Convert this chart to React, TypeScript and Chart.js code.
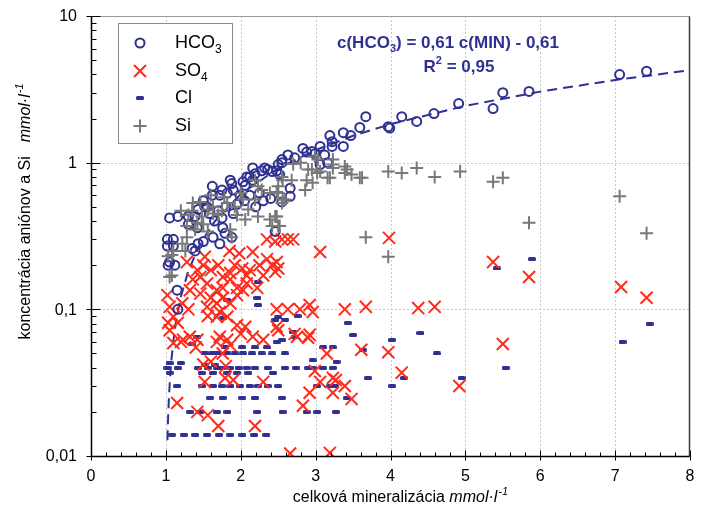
import React, { useEffect, useRef } from "react";
import { Chart, registerables } from "chart.js";

Chart.register(...registerables);

const NAVY = "#2e3192";
const RED = "#ff2b1c";
const GRAY = "#787878";
const FONT = "'Liberation Sans', Arial, sans-serif";

// regression shown in the chart: c(HCO3) = 0,61 c(MIN) - 0,61
const REG_SLOPE = 0.61;
const REG_INTERCEPT = -0.61;
const regX = [1.021, 1.024, 1.028, 1.034, 1.042, 1.055, 1.075, 1.1, 1.14, 1.2, 1.3, 1.45, 1.65, 2, 2.5, 3, 3.5, 4, 5, 6, 7, 8];

const xTickValues = [0, 1, 2, 3, 4, 5, 6, 7, 8];
const xTickLabels = ["0", "1", "2", "3", "4", "5", "6", "7", "8"];
const yTickValues = [0.01, 0.1, 1, 10];
const yTickLabels = ["0,01", "0,1", "1", "10"];

const hco3: [number, number][] = [
  [7.42, 4.2], [7.06, 3.99], [5.85, 3.06], [5.5, 3.0], [5.37, 2.34], [4.91, 2.53], [4.58, 2.16], [4.35, 1.91],
  [4.15, 2.06], [3.97, 1.76], [3.99, 1.72], [3.67, 2.06], [3.59, 1.74], [3.47, 1.53], [3.37, 1.6], [3.19, 1.53],
  [3.37, 1.29], [3.22, 1.39], [3.22, 1.29], [3.06, 1.29], [2.95, 1.19], [2.83, 1.25], [3.12, 1.13], [3.06, 0.97],
  [2.99, 1.15], [2.88, 1.18], [2.72, 1.08], [2.63, 1.13], [2.55, 1.05], [2.5, 0.97], [2.48, 0.88], [2.52, 0.83],
  [2.66, 0.67], [2.66, 0.59], [2.55, 0.54], [3.16, 1.0], [2.42, 0.87], [2.36, 0.9], [2.32, 0.92], [2.28, 0.88],
  [2.55, 1.0], [2.16, 0.92], [2.12, 0.8], [2.19, 0.84], [2.08, 0.8], [2.03, 0.74], [2.16, 0.76], [2.06, 0.7],
  [1.86, 0.76], [1.88, 0.72], [1.9, 0.65], [1.62, 0.69], [1.75, 0.65], [1.82, 0.62], [1.62, 0.6], [1.72, 0.6],
  [1.99, 0.6], [2.12, 0.6], [2.25, 0.62], [2.4, 0.57], [1.5, 0.55], [1.55, 0.5], [1.43, 0.48], [1.52, 0.5],
  [1.39, 0.43], [1.3, 0.43], [1.16, 0.43], [1.05, 0.42], [1.58, 0.45], [1.7, 0.47], [1.8, 0.5], [1.95, 0.52],
  [2.05, 0.55], [1.65, 0.4], [1.75, 0.42], [1.9, 0.45], [2.2, 0.5], [2.3, 0.55], [1.3, 0.38], [1.42, 0.36],
  [1.76, 0.36], [1.79, 0.33], [1.88, 0.31], [1.63, 0.31], [1.5, 0.29], [1.72, 0.28], [1.43, 0.28], [1.39, 0.25],
  [1.35, 0.26], [2.46, 0.34], [1.02, 0.3], [1.1, 0.3], [1.02, 0.27], [1.1, 0.27], [1.03, 0.2], [1.12, 0.2],
  [1.05, 0.21], [1.15, 0.135], [1.16, 0.1],
];

const so4: [number, number][] = [
  [7.42, 0.12], [7.08, 0.142], [5.85, 0.166], [5.37, 0.21], [5.5, 0.058], [4.92, 0.03], [4.59, 0.104], [4.37, 0.102],
  [4.15, 0.037], [3.98, 0.307], [3.97, 0.051], [3.67, 0.104], [3.61, 0.053], [3.48, 0.0245], [3.39, 0.1], [3.39, 0.03],
  [3.23, 0.034], [3.23, 0.027], [3.15, 0.05], [3.06, 0.246], [3.06, 0.032], [2.99, 0.038], [2.96, 0.096], [2.92, 0.107],
  [2.79, 0.1], [2.92, 0.067], [2.9, 0.064], [2.92, 0.027], [2.83, 0.022], [3.19, 0.0105], [2.66, 0.0104],
  [2.46, 0.29], [2.63, 0.3], [2.7, 0.3], [2.55, 0.3], [2.35, 0.3], [2.48, 0.21], [2.5, 0.19], [2.46, 0.18],
  [2.42, 0.2], [2.35, 0.22], [2.48, 0.1], [2.63, 0.1], [2.48, 0.076], [2.5, 0.072], [2.16, 0.246], [1.52, 0.228],
  [1.28, 0.21], [1.92, 0.2], [2.12, 0.185], [2.02, 0.19], [2.08, 0.17], [1.86, 0.177], [1.42, 0.185], [1.46, 0.166],
  [1.36, 0.16], [1.55, 0.15], [1.76, 0.166], [1.86, 0.16], [1.95, 0.14], [1.76, 0.14], [1.68, 0.135], [2.03, 0.135],
  [2.22, 0.14], [2.08, 0.15], [1.6, 0.12], [1.68, 0.11], [1.76, 0.12], [1.86, 0.11], [1.95, 0.125], [1.46, 0.128],
  [1.32, 0.135], [1.55, 0.104], [1.72, 0.096], [1.82, 0.089], [1.68, 0.089], [1.02, 0.125], [1.05, 0.104], [1.1, 0.089],
  [1.03, 0.081], [1.16, 0.081], [1.05, 0.072], [1.1, 0.059], [1.23, 0.062], [1.32, 0.065], [1.42, 0.062], [1.95, 0.078],
  [2.16, 0.065], [2.3, 0.062], [2.72, 0.068], [2.75, 0.065], [1.82, 0.062], [1.72, 0.065], [1.68, 0.06], [1.86, 0.057],
  [1.76, 0.05], [1.6, 0.044], [1.5, 0.042], [1.8, 0.041], [3.27, 0.033], [2.3, 0.032], [1.15, 0.023], [1.42, 0.02],
  [1.56, 0.019], [1.7, 0.016], [2.19, 0.016], [1.52, 0.032], [1.79, 0.034], [1.9, 0.033], [1.2, 0.06], [1.4, 0.055],
  [2.0, 0.068], [2.06, 0.076], [1.56, 0.09], [1.3, 0.1], [1.22, 0.11], [1.85, 0.25], [1.98, 0.24], [2.25, 0.2],
  [1.7, 0.2], [1.6, 0.185], [1.5, 0.2], [2.3, 0.17],
];

const cl: [number, number][] = [
  [1.08, 0.014], [1.24, 0.014], [1.39, 0.014], [1.55, 0.014], [1.71, 0.014], [1.86, 0.014], [2.02, 0.014], [2.18, 0.014], [2.34, 0.014],
  [1.32, 0.02], [1.46, 0.02], [1.68, 0.02], [1.82, 0.02], [2.22, 0.02], [2.56, 0.02], [2.88, 0.02], [3.02, 0.02], [3.27, 0.02],
  [1.59, 0.025], [1.76, 0.025], [2.02, 0.025], [2.19, 0.025], [2.55, 0.025], [3.42, 0.025],
  [1.15, 0.03], [1.48, 0.03], [1.63, 0.03], [1.75, 0.03], [1.86, 0.03], [1.99, 0.03], [2.12, 0.03], [2.23, 0.03], [2.36, 0.03],
  [2.5, 0.03], [3.02, 0.03], [3.19, 0.03], [3.26, 0.03], [4.02, 0.03],
  [3.7, 0.034], [4.18, 0.034], [4.95, 0.034],
  [1.05, 0.037], [1.48, 0.037], [1.63, 0.037], [1.82, 0.037], [1.95, 0.037], [2.1, 0.037], [2.43, 0.037],
  [1.02, 0.04], [1.16, 0.04], [1.43, 0.04], [1.56, 0.04], [1.68, 0.04], [1.75, 0.04], [1.86, 0.04], [1.97, 0.04], [2.08, 0.04],
  [2.19, 0.04], [2.36, 0.04], [2.59, 0.04], [2.74, 0.04], [2.9, 0.04], [2.96, 0.04], [3.1, 0.04], [3.23, 0.04], [5.54, 0.04],
  [1.05, 0.043], [1.2, 0.043], [1.52, 0.042], [1.65, 0.042],
  [2.96, 0.045], [3.28, 0.044],
  [1.52, 0.05], [1.62, 0.05], [1.7, 0.05], [1.82, 0.05], [1.92, 0.05], [2.03, 0.05], [2.15, 0.05], [2.28, 0.05], [2.42, 0.05],
  [2.59, 0.05], [4.62, 0.05], [3.63, 0.053],
  [1.79, 0.055], [2.02, 0.055], [2.19, 0.055], [2.35, 0.055], [3.1, 0.055], [3.23, 0.055],
  [1.35, 0.058], [4.02, 0.062], [2.55, 0.062], [2.48, 0.06], [7.1, 0.06],
  [1.42, 0.065], [2.72, 0.065], [3.5, 0.067], [4.4, 0.069], [2.7, 0.07],
  [3.43, 0.081], [7.46, 0.08],
  [2.76, 0.09], [2.59, 0.085], [2.5, 0.088], [1.76, 0.087], [2.46, 0.085],
  [2.23, 0.107], [1.82, 0.116], [2.22, 0.12], [2.23, 0.154], [5.42, 0.19], [5.89, 0.22],
];

const si: [number, number][] = [
  [7.42, 0.33], [7.06, 0.59], [5.85, 0.39], [5.5, 0.79], [5.37, 0.74], [4.93, 0.87], [4.59, 0.8], [4.35, 0.92],
  [4.15, 0.85], [3.97, 0.87], [3.97, 0.228], [3.67, 0.31], [3.42, 0.9], [3.59, 0.79], [3.19, 0.79], [3.06, 0.87],
  [2.95, 0.9], [3.39, 0.85], [3.23, 0.97], [3.02, 0.85], [2.99, 1.1], [3.03, 1.05], [3.23, 1.05], [3.23, 0.92],
  [3.39, 0.94], [3.48, 0.83], [3.62, 0.79], [3.16, 0.79], [2.9, 0.9], [2.88, 0.76], [2.86, 0.65], [2.96, 0.73],
  [2.68, 0.76], [2.55, 0.8], [2.55, 0.53], [2.59, 0.56], [2.5, 0.69], [2.48, 0.63], [1.36, 0.53], [1.46, 0.54],
  [1.56, 0.48], [1.63, 0.5], [1.7, 0.44], [1.82, 0.53], [1.92, 0.5], [2.1, 0.48], [2.19, 0.56], [2.28, 0.65],
  [2.39, 0.62], [2.5, 0.62], [2.56, 0.76], [2.56, 0.56], [2.46, 0.43], [2.19, 0.76], [2.23, 0.69], [2.03, 0.56],
  [1.3, 0.44], [1.48, 0.43], [1.63, 0.45], [1.39, 0.35], [1.5, 0.38], [1.28, 0.31], [1.22, 0.28], [1.26, 0.25],
  [1.1, 0.25], [1.03, 0.23], [1.08, 0.17], [1.86, 0.35], [1.88, 0.31], [2.06, 0.41], [2.23, 0.43], [2.39, 0.41],
  [2.42, 0.37], [2.5, 0.37], [1.42, 0.39], [1.56, 0.34], [1.28, 0.37], [1.05, 0.166], [1.08, 0.235], [2.48, 0.43],
  [2.52, 0.37], [1.75, 0.47], [1.95, 0.44], [2.0, 0.62], [1.78, 0.58], [1.6, 0.6], [1.2, 0.47], [1.35, 0.47],
  [2.7, 0.98], [2.8, 1.0],
];

const toXY = (arr: [number, number][]) => arr.map(([x, y]) => ({ x, y }));

function makeDash(): HTMLCanvasElement {
  const c = document.createElement("canvas");
  c.width = 8;
  c.height = 4;
  const g = c.getContext("2d")!;
  g.fillStyle = NAVY;
  g.beginPath();
  (g as any).roundRect ? (g as any).roundRect(0, 0, 8, 4, 1.5) : g.rect(0, 0, 8, 4);
  g.fill();
  return c;
}

function drawMarker(ctx: CanvasRenderingContext2D, kind: string, x: number, y: number, dash: HTMLCanvasElement) {
  ctx.save();
  ctx.setLineDash([]);
  if (kind === "circle") {
    ctx.strokeStyle = NAVY;
    ctx.lineWidth = 2;
    ctx.beginPath();
    ctx.arc(x, y, 4.5, 0, Math.PI * 2);
    ctx.stroke();
  } else if (kind === "x") {
    ctx.strokeStyle = RED;
    ctx.lineWidth = 2;
    const r = 6;
    ctx.beginPath();
    ctx.moveTo(x - r, y - r);
    ctx.lineTo(x + r, y + r);
    ctx.moveTo(x - r, y + r);
    ctx.lineTo(x + r, y - r);
    ctx.stroke();
  } else if (kind === "dash") {
    ctx.drawImage(dash, Math.round(x - 4), Math.round(y - 2));
  } else {
    ctx.strokeStyle = GRAY;
    ctx.lineWidth = 2;
    const r = 6.5;
    ctx.beginPath();
    ctx.moveTo(x - r, y);
    ctx.lineTo(x + r, y);
    ctx.moveTo(x, y - r);
    ctx.lineTo(x, y + r);
    ctx.stroke();
  }
  ctx.restore();
}

export default function App() {
  const ref = useRef<HTMLCanvasElement>(null);

  useEffect(() => {
    const canvas = ref.current!;
    const dash = makeDash();

    const framePlugin = {
      id: "framePlugin",
      beforeDatasetsDraw(chart: any) {
        const ctx = chart.ctx as CanvasRenderingContext2D;
        const xs = chart.scales.x;
        const ys = chart.scales.y;
        const a = chart.chartArea;
        ctx.save();
        ctx.strokeStyle = "#c8c8c8";
        ctx.lineWidth = 1;
        ctx.setLineDash([2, 2]);
        for (let v = 1; v <= 7; v++) {
          const px = Math.round(xs.getPixelForValue(v)) + 0.5;
          ctx.beginPath();
          ctx.moveTo(px, a.top);
          ctx.lineTo(px, a.bottom);
          ctx.stroke();
        }
        for (const v of [0.1, 1]) {
          const py = Math.round(ys.getPixelForValue(v)) + 0.5;
          ctx.beginPath();
          ctx.moveTo(a.left, py);
          ctx.lineTo(a.right, py);
          ctx.stroke();
        }
        ctx.restore();
      },
      afterDatasetsDraw(chart: any) {
        const ctx = chart.ctx as CanvasRenderingContext2D;
        const xs = chart.scales.x;
        const ys = chart.scales.y;
        const a = chart.chartArea;
        const L = Math.round(a.left) + 0.5;
        const B = Math.round(a.bottom) + 0.5;
        const R = Math.round(a.right) - 0.5;
        const T = Math.round(a.top) + 0.5;
        ctx.save();
        ctx.setLineDash([]);
        ctx.lineWidth = 1;
        ctx.strokeStyle = "#9a9a9a";
        ctx.beginPath();
        ctx.moveTo(L, T);
        ctx.lineTo(R, T);
        ctx.stroke();
        ctx.strokeStyle = "#3a3a3a";
        ctx.lineWidth = 1.5;
        ctx.beginPath();
        ctx.moveTo(R, T);
        ctx.lineTo(R, B);
        ctx.stroke();
        ctx.strokeStyle = "#000";
        ctx.lineWidth = 1.5;
        ctx.beginPath();
        ctx.moveTo(L, T);
        ctx.lineTo(L, B);
        ctx.lineTo(R, B);
        ctx.stroke();
        ctx.lineWidth = 1;
        for (let i = 0; i <= 40; i++) {
          const v = i * 0.2;
          const px = Math.round(xs.getPixelForValue(v)) + 0.5;
          ctx.beginPath();
          if (i % 5 === 0) {
            ctx.moveTo(px, B + 4);
            ctx.lineTo(px, B - 6);
          } else {
            ctx.moveTo(px, B);
            ctx.lineTo(px, B - 4);
          }
          ctx.stroke();
        }
        for (const d of [0.01, 0.1, 1]) {
          for (let k = 1; k <= 9; k++) {
            const py = Math.round(ys.getPixelForValue(k * d)) + 0.5;
            ctx.beginPath();
            if (k === 1) {
              ctx.moveTo(L - 5, py);
              ctx.lineTo(L + 9, py);
            } else {
              ctx.moveTo(L, py);
              ctx.lineTo(L + 5, py);
            }
            ctx.stroke();
          }
        }
        const p10 = Math.round(ys.getPixelForValue(10)) + 0.5;
        ctx.beginPath();
        ctx.moveTo(L - 5, p10);
        ctx.lineTo(L + 9, p10);
        ctx.stroke();

        // tick labels
        ctx.fillStyle = "#000";
        ctx.font = `16px ${FONT}`;
        ctx.textBaseline = "middle";
        ctx.textAlign = "center";
        xTickValues.forEach((v, i) => {
          ctx.fillText(xTickLabels[i], xs.getPixelForValue(v), 477);
        });
        ctx.textAlign = "right";
        yTickValues.forEach((v, i) => {
          ctx.fillText(yTickLabels[i], 77, ys.getPixelForValue(v) + 1);
        });
        ctx.restore();
      },
      afterDraw(chart: any) {
        const ctx = chart.ctx as CanvasRenderingContext2D;
        ctx.save();
        ctx.setLineDash([]);
        ctx.fillStyle = "#ffffff";
        ctx.fillRect(118, 23, 114, 120);
        ctx.strokeStyle = "#8a8a8a";
        ctx.lineWidth = 1;
        ctx.strokeRect(118.5, 23.5, 114, 120);
        const rows: [string, string, string][] = [
          ["circle", "HCO", "3"],
          ["x", "SO", "4"],
          ["dash", "Cl", ""],
          ["plus", "Si", ""],
        ];
        const ry = [43, 71, 98, 126];
        rows.forEach(([k, t, sub], i) => {
          drawMarker(ctx, k, 140, ry[i], dash);
          ctx.fillStyle = "#000";
          ctx.textBaseline = "middle";
          ctx.textAlign = "left";
          ctx.font = `18px ${FONT}`;
          ctx.fillText(t, 175, ry[i]);
          if (sub) {
            const w = ctx.measureText(t).width;
            ctx.font = `12px ${FONT}`;
            ctx.fillText(sub, 175 + w, ry[i] + 7);
          }
        });

        ctx.fillStyle = NAVY;
        ctx.textBaseline = "middle";
        ctx.textAlign = "left";
        const big = `bold 17px ${FONT}`;
        const small = `bold 11px ${FONT}`;
        ctx.font = big;
        const p1 = "c(HCO";
        const p2 = ") = 0,61 c(MIN) - 0,61";
        const w1 = ctx.measureText(p1).width;
        const w2 = ctx.measureText(p2).width;
        ctx.font = small;
        const ws = ctx.measureText("3").width;
        const total = w1 + ws + w2;
        let sx = 448 - total / 2;
        ctx.font = big;
        ctx.fillText(p1, sx, 43);
        ctx.font = small;
        ctx.fillText("3", sx + w1, 49);
        ctx.font = big;
        ctx.fillText(p2, sx + w1 + ws, 43);
        ctx.font = big;
        const r1 = "R";
        const r2 = " = 0,95";
        const rw1 = ctx.measureText(r1).width;
        const rw2 = ctx.measureText(r2).width;
        ctx.font = small;
        const rws = ctx.measureText("2").width;
        sx = 459 - (rw1 + rws + rw2) / 2;
        ctx.font = big;
        ctx.fillText(r1, sx, 67);
        ctx.font = small;
        ctx.fillText("2", sx + rw1, 61);
        ctx.font = big;
        ctx.fillText(r2, sx + rw1 + rws, 67);

        ctx.fillStyle = "#000";
        const nf = `16px ${FONT}`;
        const itf = `italic 16px ${FONT}`;
        const sf = `italic 11px ${FONT}`;
        const xt1 = "celková mineralizácia ";
        const xt2 = "mmol·l";
        const xt3 = "-1";
        ctx.font = nf;
        const a1 = ctx.measureText(xt1).width;
        ctx.font = itf;
        const a2 = ctx.measureText(xt2).width;
        ctx.font = sf;
        const a3 = ctx.measureText(xt3).width;
        let tx = 400 - (a1 + a2 + a3) / 2;
        const ty = 498;
        ctx.font = nf;
        ctx.fillText(xt1, tx, ty);
        ctx.font = itf;
        ctx.fillText(xt2, tx + a1, ty);
        ctx.font = sf;
        ctx.fillText(xt3, tx + a1 + a2 + 1, ty - 6);

        ctx.save();
        ctx.translate(26, 212);
        ctx.rotate(-Math.PI / 2);
        const yt1 = "koncentrácia aniónov a Si";
        const gap = 14;
        ctx.font = nf;
        const b1 = ctx.measureText(yt1).width;
        ctx.font = itf;
        const b2 = ctx.measureText(xt2).width;
        ctx.font = sf;
        const b3 = ctx.measureText(xt3).width;
        tx = -(b1 + gap + b2 + b3) / 2;
        ctx.font = nf;
        ctx.fillText(yt1, tx, 0);
        ctx.font = itf;
        ctx.fillText(xt2, tx + b1 + gap, 0);
        ctx.font = sf;
        ctx.fillText(xt3, tx + b1 + gap + b2 + 1, -6);
        ctx.restore();

        ctx.restore();
      },
    };

    const chart = new Chart(canvas, {
      type: "scatter",
      data: {
        datasets: [
          {
            label: "reg",
            data: regX.map((x) => ({ x, y: REG_SLOPE * x + REG_INTERCEPT })),
            showLine: true,
            pointRadius: 0,
            borderColor: NAVY,
            borderWidth: 2,
            borderDash: [10, 6],
            fill: false,
            order: 5,
          } as any,
          {
            label: "Cl",
            data: toXY(cl),
            pointStyle: dash,
            pointRadius: 4,
            order: 4,
          },
          {
            label: "SO4",
            data: toXY(so4),
            pointStyle: "crossRot",
            pointRadius: 8.5,
            borderColor: RED,
            backgroundColor: RED,
            borderWidth: 2,
            order: 3,
          },
          {
            label: "HCO3",
            data: toXY(hco3),
            pointStyle: "circle",
            pointRadius: 4.5,
            borderColor: NAVY,
            backgroundColor: "rgba(0,0,0,0)",
            borderWidth: 2,
            order: 2,
          },
          {
            label: "Si",
            data: toXY(si),
            pointStyle: "cross",
            pointRadius: 6.5,
            borderColor: GRAY,
            backgroundColor: GRAY,
            borderWidth: 2,
            order: 1,
          },
        ],
      },
      options: {
        animation: false,
        responsive: false,
        devicePixelRatio: 1,
        layout: { padding: { left: 0, right: 16, top: 16, bottom: 0 } },
        plugins: {
          legend: { display: false },
          tooltip: { enabled: false },
        },
        scales: {
          x: {
            type: "linear",
            min: 0,
            max: 8,
            grid: { display: false, drawTicks: false },
            border: { display: false },
            ticks: { display: false, stepSize: 1 },
            afterFit: (s: any) => {
              s.height = 64;
            },
          },
          y: {
            type: "logarithmic",
            min: 0.01,
            max: 10,
            grid: { display: false, drawTicks: false },
            border: { display: false },
            ticks: { display: false },
            afterFit: (s: any) => {
              s.width = 91;
            },
          },
        },
      } as any,
      plugins: [framePlugin],
    });

    return () => chart.destroy();
  }, []);

  return (
    <div style={{ position: "absolute", left: 0, top: 0, width: 706, height: 520, background: "#fff" }}>
      <canvas ref={ref} width={706} height={520} style={{ width: 706, height: 520, display: "block" }} />
    </div>
  );
}
